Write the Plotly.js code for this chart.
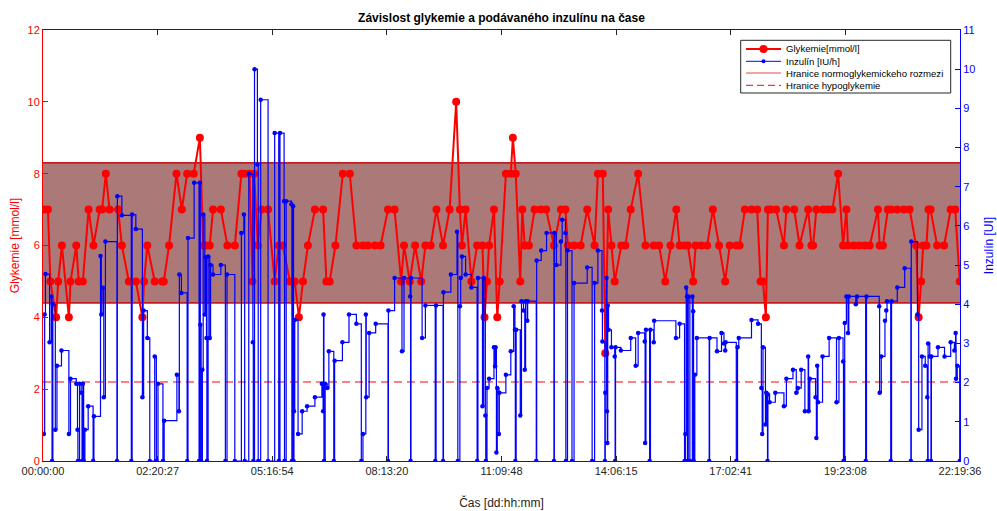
<!DOCTYPE html>
<html>
<head>
<meta charset="utf-8">
<script src="https://cdn.plot.ly/plotly-3.0.1.min.js"></script>
<style>
  html, body { margin: 0; padding: 0; background: #ffffff; }
  #chart { width: 997px; height: 511px; }
</style>
</head>
<body>
<div id="chart"></div>
<script>
// Glucose measurements: time from start [h] and glycaemia [mmol/l]
const glyTime = [0.02,0.12,0.18,0.32,0.37,0.46,0.63,0.67,0.81,0.87,0.97,1.11,1.23,1.38,1.44,1.53,1.62,1.83,1.92,
  2.09,2.26,2.42,2.46,2.54,2.72,2.90,2.94,3.07,3.25,3.38,3.51,3.67,3.82,3.90,3.97,4.06,4.14,4.33,4.49,4.67,4.83,
  4.91,5.03,5.10,5.14,5.23,5.32,5.48,5.64,5.74,5.84,6.01,6.13,6.23,6.33,6.45,6.62,6.82,6.90,6.98,7.12,7.30,7.47,
  7.63,7.79,7.91,8.08,8.22,8.40,8.56,8.72,8.79,8.93,9.06,9.21,9.31,9.44,9.58,9.74,9.90,10.06,10.15,10.20,10.29,
  10.43,10.57,10.70,10.75,10.81,10.86,10.98,11.06,11.12,11.27,11.39,11.44,11.51,11.62,11.67,11.73,11.83,11.97,
  12.12,12.25,12.44,12.61,12.72,12.78,12.93,13.09,13.25,13.43,13.51,13.63,13.69,13.76,13.84,13.92,14.08,14.18,
  14.31,14.49,14.67,14.87,15.00,15.15,15.28,15.42,15.50,15.62,15.70,15.83,15.89,16.03,16.17,16.31,16.46,16.61,
  16.72,16.88,16.96,17.09,17.25,17.39,17.47,17.53,17.60,17.65,17.72,17.85,18.04,18.10,18.29,18.42,18.63,18.71,
  18.75,18.83,18.99,19.11,19.22,19.36,19.48,19.56,19.60,19.74,19.87,20.01,20.13,20.33,20.37,20.45,20.57,20.65,
  20.80,20.96,21.10,21.26,21.32,21.38,21.43,21.51,21.56,21.61,21.77,21.94,22.10,22.21,22.32];
const glyValue = [7,7,5,4,5,6,4,5,6,5,5,7,6,7,7,8,7,7,6,
  5,5,4,5,6,5,5,5,6,8,7,8,8,9,6,6,6,7,7,6,6,8,
  8,8,5,8,6,7,7,5,6,6,5,5,4,5,6,7,7,5,5,6,8,8,
  6,6,6,6,6,7,7,5,6,5,6,5,6,6,7,6,7,10,7,6,7,
  5,6,6,4,5,6,7,4,5,8,8,9,8,5,7,6,6,7,
  7,7,6,7,7,6,6,6,7,6,8,8,3,7,6,5,6,6,
  7,8,6,6,6,5,6,7,6,6,6,5,6,6,6,7,6,5,
  6,6,6,7,7,7,5,5,4,7,7,7,6,7,7,6,7,6,
  6,7,7,7,7,8,6,7,6,6,6,6,6,7,6,6,7,7,
  7,7,7,6,4,5,6,6,7,7,6,6,7,7,5];

// Insulin pump: time from start [h] and delivered rate [IU/h]
const insTime = [0.02,0.04,0.06,0.16,0.20,0.22,0.24,0.30,0.34,0.45,0.63,0.67,0.81,0.84,0.85,0.89,0.93,0.95,0.97,0.99,
  1.02,1.10,1.22,1.24,1.40,1.42,1.46,1.48,1.52,1.80,1.81,1.92,2.15,2.17,2.26,2.42,2.45,2.54,2.60,2.72,2.76,2.80,
  2.92,2.95,3.26,3.31,3.32,3.37,3.51,3.53,3.68,3.80,3.82,3.83,3.85,3.88,3.90,3.94,3.96,3.98,3.99,4.02,4.06,4.08,
  4.14,4.33,4.44,4.48,4.67,4.83,4.89,4.91,5.01,5.11,5.12,5.15,5.22,5.24,5.30,5.48,5.64,5.74,5.77,5.87,5.88,5.92,
  6.05,6.06,6.09,6.10,6.11,6.13,6.21,6.31,6.43,6.62,6.79,6.82,6.83,6.84,6.87,6.92,6.96,7.08,7.10,7.29,7.45,7.63,
  7.75,7.79,7.86,7.87,7.94,8.10,8.40,8.41,8.56,8.74,8.79,8.94,8.95,8.96,9.23,9.31,9.55,9.57,9.74,9.75,9.93,10.08,
  10.10,10.15,10.17,10.20,10.29,10.43,10.57,10.59,10.70,10.73,10.77,10.78,10.81,10.86,10.98,11.01,11.02,11.04,
  11.06,11.10,11.11,11.27,11.39,11.46,11.49,11.50,11.52,11.62,11.65,11.70,11.73,11.75,11.79,11.80,12.01,12.02,
  12.13,12.26,12.44,12.45,12.50,12.61,12.64,12.72,12.73,12.77,12.88,12.93,13.25,13.37,13.43,13.51,13.61,13.62,
  13.68,13.69,13.72,13.73,13.74,13.75,13.77,13.84,13.92,13.93,13.94,14.07,14.31,14.43,14.49,14.65,14.66,14.68,
  14.77,14.79,14.87,14.88,15.41,15.50,15.62,15.64,15.66,15.68,15.69,15.71,15.75,15.81,15.83,15.84,15.87,15.92,
  16.22,16.23,16.41,16.52,16.58,16.61,16.62,16.88,16.91,16.94,17.25,17.41,17.49,17.51,17.53,17.59,17.61,17.64,
  17.65,17.69,17.83,18.04,18.10,18.26,18.34,18.38,18.46,18.55,18.63,18.64,18.67,18.81,18.83,18.85,18.87,18.98,
  19.14,19.32,19.38,19.48,19.49,19.52,19.56,19.60,19.62,19.79,19.82,20.03,20.05,20.36,20.37,20.41,20.50,20.53,
  20.55,20.64,20.66,20.80,20.98,21.13,21.14,21.29,21.32,21.40,21.48,21.53,21.54,21.55,21.59,21.62,21.63,21.79,
  21.95,22.10,22.19,22.22,22.23,22.26,22.32];
const insValue = [0.69,3.74,4.77,3.03,4.2,0,4.0,0.8,2.43,2.82,0.69,2.1,1.97,0.8,0,1.97,1.74,0,1.97,0,
  0.8,1.4,0,1.14,5.23,3.74,4.42,1.63,5.6,0,6.76,6.27,0,6.29,5.92,1.63,3.84,3.14,0,2.67,0,1.97,
  0,1.03,2.2,1.27,4.76,4.29,0,5.69,7.1,0,7.1,3.48,0,2.33,6.29,3.74,5.2,3.14,0,5.22,3.14,5.0,
  4.76,5.0,0,4.76,0,5.82,6.29,0,7.33,3.03,0,10.0,7.57,0,9.22,0,8.37,0,8.37,6.63,0,6.63,
  6.55,0,6.5,0,1.27,3.6,0.69,1.27,1.4,1.63,1.97,1.27,3.74,0,1.97,1.86,2.8,0,2.56,3.03,3.74,3.5,
  0,0.69,3.74,1.63,3.27,3.5,0,3.84,4.67,2.8,4.67,4.2,0,4.67,3.14,3.97,0,3.97,0,4.31,4.76,5.85,
  0,3.95,4.67,5.22,4.76,4.43,0,4.67,1.4,4.67,1.16,0,1.86,2.1,2.9,2.42,2.9,0.22,
  1.86,0.69,1.74,2.2,2.8,3.95,3.35,0,3.35,1.16,4.08,3.84,2.33,4.08,3.58,4.08,0,5.12,
  5.37,5.82,0,5.82,5.0,5.6,6.16,5.82,0,5.37,0,4.54,4.94,0,4.54,5.37,3.84,3.05,
  0,1.74,4.67,1.27,0.46,3.97,3.35,2.9,2.67,0,2.9,2.82,3.14,2.43,3.27,3.05,0.46,3.35,
  0,3.35,3.03,3.58,3.14,3.5,0,0.69,4.43,4.2,0,4.2,0,4.2,3.82,0,2.2,3.14,
  0,3.14,2.8,3.27,3.0,2.82,3.03,0,2.9,3.14,3.6,3.5,1.86,0.69,2.9,0.93,1.74,0,
  1.7,1.5,1.74,1.4,2.1,2.33,1.74,1.86,2.33,1.27,2.67,1.27,2.1,1.63,0.59,2.43,1.5,2.67,
  3.14,1.5,3.14,2.54,0,3.52,4.2,3.27,4.2,4.0,4.2,0,4.2,3.95,1.74,2.67,3.58,3.84,
  4.08,0,4.08,4.43,4.92,0,5.6,3.74,0.8,2.67,2.43,1.63,0,3.0,2.67,0,2.67,2.9,
  2.67,3.03,2.82,3.27,2.1,2.43,0];

// Time axis labels (dd:hh:mm) and the end of the record
const tickLabels = ['00:00:00','02:20:27','05:16:54','08:13:20','11:09:48','14:06:15','17:02:41','19:23:08','22:19:36'];
const tEnd = 22.3267;

// Reference limits [mmol/l]
const normoRange = [4.4, 8.3];
const hypoLimit = 2.2;

// Legend entry names
const legendNames = ['Glykemie[mmol/l]', 'Inzulín [IU/h]', 'Hranice normoglykemickeho rozmezi', 'Hranice hypoglykemie'];

const RED = 'rgb(255,0,0)';
const BLUE = 'rgb(0,0,255)';
const EDGE = 'rgb(196,28,36)';
const LIMIT = 'rgb(236,70,70)';
const FONT = 'Liberation Sans, Arial, Helvetica, sans-serif';

const tickVals = tickLabels.map((_, i) => i * tEnd / (tickLabels.length - 1));

// Plot area in pixels, used to place the compact legend box
const M = { l: 43, r: 37, t: 30, b: 50 };
const W = 997, H = 511;
const PW = W - M.l - M.r, PH = H - M.t - M.b;
const px = v => (v - M.l) / PW;
const py = v => (H - M.b - v) / PH;

const traces = [
  {
    x: [0, tEnd], y: [normoRange[1], normoRange[1]],
    mode: 'lines', showlegend: false,
    line: { color: EDGE, width: 1.8 }, hoverinfo: 'skip'
  },
  {
    x: [0, tEnd], y: [normoRange[0], normoRange[0]],
    mode: 'lines', showlegend: false,
    line: { color: EDGE, width: 1.8 }, hoverinfo: 'skip'
  },
  {
    x: [0, tEnd], y: [hypoLimit, hypoLimit],
    mode: 'lines', showlegend: false,
    line: { color: RED, width: 1, dash: '8px,5px' }, hoverinfo: 'skip'
  },
  {
    x: glyTime, y: glyValue, yaxis: 'y',
    mode: 'lines+markers', name: legendNames[0], showlegend: false,
    line: { color: RED, width: 2 },
    marker: { color: RED, size: 8 }
  },
  {
    x: insTime, y: insValue, yaxis: 'y2',
    mode: 'lines+markers', name: legendNames[1], showlegend: false,
    line: { color: BLUE, width: 1.2, shape: 'hv' },
    marker: { color: BLUE, size: 4.5 }
  }
];

// Legend: box, sample lines/markers and entry labels
const box = { x0: 740.7, x1: 950.7, y0: 40.3, y1: 93 };
const rows = [49, 61.3, 73, 85.3];
const sampleX = [746, 781];
const textX = 784;
const samples = [
  { color: RED, width: 2, dash: 'solid', dot: 8 },
  { color: BLUE, width: 1, dash: 'solid', dot: 4 },
  { color: LIMIT, width: 1, dash: 'solid', dot: 0 },
  { color: RED, width: 1, dash: '7px,4px', dot: 0 }
];

const shapes = [
  {
    type: 'rect', xref: 'paper', x0: 0, x1: 1, yref: 'y',
    y0: normoRange[0], y1: normoRange[1],
    fillcolor: 'rgb(172,121,121)', line: { width: 0 }, layer: 'below'
  },
  {
    type: 'rect', xref: 'paper', yref: 'paper',
    x0: px(box.x0), x1: px(box.x1), y0: py(box.y1), y1: py(box.y0),
    fillcolor: '#ffffff', line: { color: '#262626', width: 1 }, layer: 'above'
  }
];
const annotations = [];
samples.forEach((s, i) => {
  shapes.push({
    type: 'line', xref: 'paper', yref: 'paper',
    x0: px(sampleX[0]), x1: px(sampleX[1]), y0: py(rows[i]), y1: py(rows[i]),
    line: { color: s.color, width: s.width, dash: s.dash }, layer: 'above'
  });
  if (s.dot) {
    shapes.push({
      type: 'circle', xref: 'paper', yref: 'paper',
      xsizemode: 'pixel', ysizemode: 'pixel',
      xanchor: px((sampleX[0] + sampleX[1]) / 2), yanchor: py(rows[i]),
      x0: -s.dot / 2, x1: s.dot / 2, y0: -s.dot / 2, y1: s.dot / 2,
      fillcolor: s.color, line: { width: 0 }, layer: 'above'
    });
  }
  annotations.push({
    text: legendNames[i], xref: 'paper', yref: 'paper',
    x: px(textX), y: py(rows[i]), xanchor: 'left', yanchor: 'middle',
    showarrow: false, font: { family: FONT, size: 9.6, color: '#000000' }
  });
});

const layout = {
  width: W, height: H,
  margin: { l: M.l, r: M.r, t: M.t, b: M.b, pad: 0 },
  paper_bgcolor: '#ffffff', plot_bgcolor: '#ffffff',
  font: { family: FONT, size: 11, color: '#262626' },
  showlegend: false,
  title: {
    text: 'Závislost glykemie a podávaného inzulínu na čase',
    font: { family: FONT, size: 12, color: '#000000', weight: 'bold' },
    xref: 'paper', x: 0.5, xanchor: 'center',
    yref: 'container', y: 0.965, yanchor: 'middle'
  },
  xaxis: {
    range: [0, tEnd], tickmode: 'array', tickvals: tickVals, ticktext: tickLabels,
    ticks: 'inside', ticklen: 5, tickcolor: '#262626', tickwidth: 1,
    showline: true, linecolor: '#262626', linewidth: 1, mirror: 'ticks',
    showgrid: false, zeroline: false,
    tickfont: { family: FONT, size: 11, color: '#262626' },
    title: { text: 'Čas [dd:hh:mm]', font: { family: FONT, size: 12, color: '#262626' }, standoff: 22 },
    automargin: false
  },
  yaxis: {
    range: [0, 12], tick0: 0, dtick: 2,
    ticks: 'inside', ticklen: 5, tickcolor: RED, tickwidth: 1,
    showline: true, linecolor: RED, linewidth: 1,
    showgrid: false, zeroline: false,
    tickfont: { family: FONT, size: 11, color: RED },
    title: { text: 'Glykemie [mmol/l]', font: { family: FONT, size: 12, color: RED }, standoff: 5 },
    automargin: false
  },
  yaxis2: {
    overlaying: 'y', side: 'right',
    range: [0, 11], tick0: 0, dtick: 1,
    ticks: 'inside', ticklen: 5, tickcolor: BLUE, tickwidth: 1,
    showline: true, linecolor: BLUE, linewidth: 1,
    showgrid: false, zeroline: false,
    tickfont: { family: FONT, size: 11, color: BLUE },
    title: { text: 'Inzulín [UI]', font: { family: FONT, size: 12, color: BLUE }, standoff: 10 },
    automargin: false
  },
  shapes: shapes,
  annotations: annotations
};

Plotly.newPlot('chart', traces, layout, { displayModeBar: false, staticPlot: true });
</script>
</body>
</html>
